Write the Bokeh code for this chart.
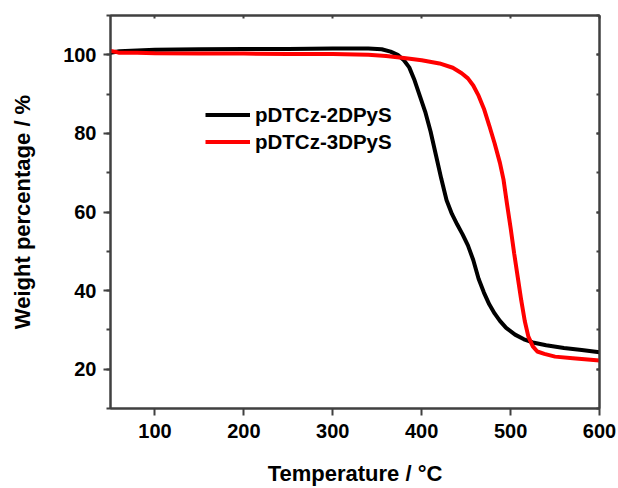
from bokeh.plotting import figure
from bokeh.models import Range1d, LinearAxis, SingleIntervalTicker, Legend, LegendItem
from bokeh.embed import file_html
from bokeh.resources import INLINE

# Data
temp_2dpys = [50, 60, 80, 100, 150, 200, 250, 300, 340, 355, 365, 373, 380, 386, 392, 398,
              404, 410, 416, 422, 428, 434, 440, 446, 452, 458, 464, 470, 476, 482, 488,
              495, 505, 515, 525, 540, 560, 580, 600]
weight_2dpys = [100.5, 100.9, 101.1, 101.3, 101.4, 101.5, 101.5, 101.6, 101.6, 101.4, 100.8,
                100.0, 98.6, 96.8, 93.5, 89.5, 85.5, 80.5, 74.5, 68.5, 63.0, 59.5, 56.8,
                54.3, 51.5, 47.8, 43.0, 39.5, 36.5, 34.2, 32.3, 30.5, 28.8, 27.6, 26.8,
                26.1, 25.4, 24.9, 24.3]

temp_3dpys = [50, 55, 60, 80, 100, 150, 200, 250, 300, 340, 360, 380, 400, 420, 435, 445,
              452, 458, 464, 470, 476, 482, 488, 492, 496, 500, 504, 508, 512, 516, 520,
              525, 530, 538, 550, 570, 590, 600]
weight_3dpys = [101.0, 100.8, 100.5, 100.5, 100.4, 100.3, 100.3, 100.2, 100.2, 100.0, 99.7,
                99.2, 98.6, 97.8, 96.7, 95.3, 94.0, 92.2, 89.6, 86.3, 82.0, 77.5, 72.5,
                68.3, 62.0, 56.0, 49.5, 43.5, 37.5, 32.2, 28.3, 25.8, 24.5, 23.9, 23.2,
                22.8, 22.4, 22.2]

series_labels = ["pDTCz-2DPyS", "pDTCz-3DPyS"]
x_title = "Temperature / °C"
y_title = "Weight percentage / %"

FONT = "Liberation Sans"
AX = "#404040"

p = figure(width=618, height=488, x_range=Range1d(50, 600), y_range=Range1d(10, 110),
           output_backend="svg", toolbar_location=None,
           min_border_left=110, min_border_right=19, min_border_top=15, min_border_bottom=80)
p.xgrid.visible = False
p.ygrid.visible = False
p.outline_line_color = AX
p.outline_line_width = 2
p.background_fill_color = "white"
p.border_fill_color = "white"

xax = p.xaxis[0]
xax.ticker = SingleIntervalTicker(interval=100, num_minor_ticks=0)
yax = p.yaxis[0]
yax.ticker = SingleIntervalTicker(interval=20, num_minor_ticks=2)

for ax in (xax, yax):
    ax.axis_line_color = AX
    ax.axis_line_width = 2
    ax.major_tick_line_color = AX
    ax.major_tick_line_width = 2
    ax.minor_tick_line_color = AX
    ax.minor_tick_line_width = 2
    ax.major_tick_out = 7
    ax.major_tick_in = 0
    ax.minor_tick_out = 4
    ax.minor_tick_in = 0
    ax.major_label_text_font = FONT
    ax.major_label_text_font_style = "bold"
    ax.major_label_text_font_size = "20px"
    ax.major_label_text_color = "black"
    ax.axis_label_text_font = FONT
    ax.axis_label_text_font_style = "bold"
    ax.axis_label_text_font_size = "22px"
    ax.axis_label_text_color = "black"

xax.axis_label = x_title
xax.major_label_standoff = 8
xax.axis_label_standoff = 20
yax.axis_label = y_title
yax.major_label_standoff = 7
yax.axis_label_standoff = 25

# mirrored tick axes (no labels)
top = LinearAxis(ticker=SingleIntervalTicker(interval=100, num_minor_ticks=0),
                 major_label_text_font_size="0px", major_label_standoff=0,
                 major_tick_in=3, major_tick_out=0, minor_tick_in=0, minor_tick_out=0,
                 axis_line_color=AX, axis_line_width=2,
                 major_tick_line_color=AX, major_tick_line_width=2)
right = LinearAxis(ticker=SingleIntervalTicker(interval=20, num_minor_ticks=2),
                   major_label_text_font_size="0px", major_label_standoff=0,
                   major_tick_in=3, major_tick_out=0, minor_tick_in=3, minor_tick_out=0,
                   axis_line_color=AX, axis_line_width=2,
                   major_tick_line_color=AX, major_tick_line_width=2,
                   minor_tick_line_color=AX, minor_tick_line_width=2)
p.add_layout(top, "above")
p.add_layout(right, "right")

r1 = p.line(temp_2dpys, weight_2dpys, line_color="black", line_width=4)
r2 = p.line(temp_3dpys, weight_3dpys, line_color="#ff0000", line_width=4)

legend = Legend(items=[LegendItem(label=series_labels[0], renderers=[r1]),
                       LegendItem(label=series_labels[1], renderers=[r2])],
                location=(95, 253), padding=0, margin=0, spacing=0,
                label_height=27, glyph_height=27, glyph_width=45, label_standoff=5,
                label_text_font=FONT, label_text_font_style="bold",
                label_text_font_size="20.5px", label_text_color="black",
                background_fill_alpha=0, border_line_alpha=0)
p.add_layout(legend, "center")

open("out.html", "w").write(file_html(p, INLINE))
